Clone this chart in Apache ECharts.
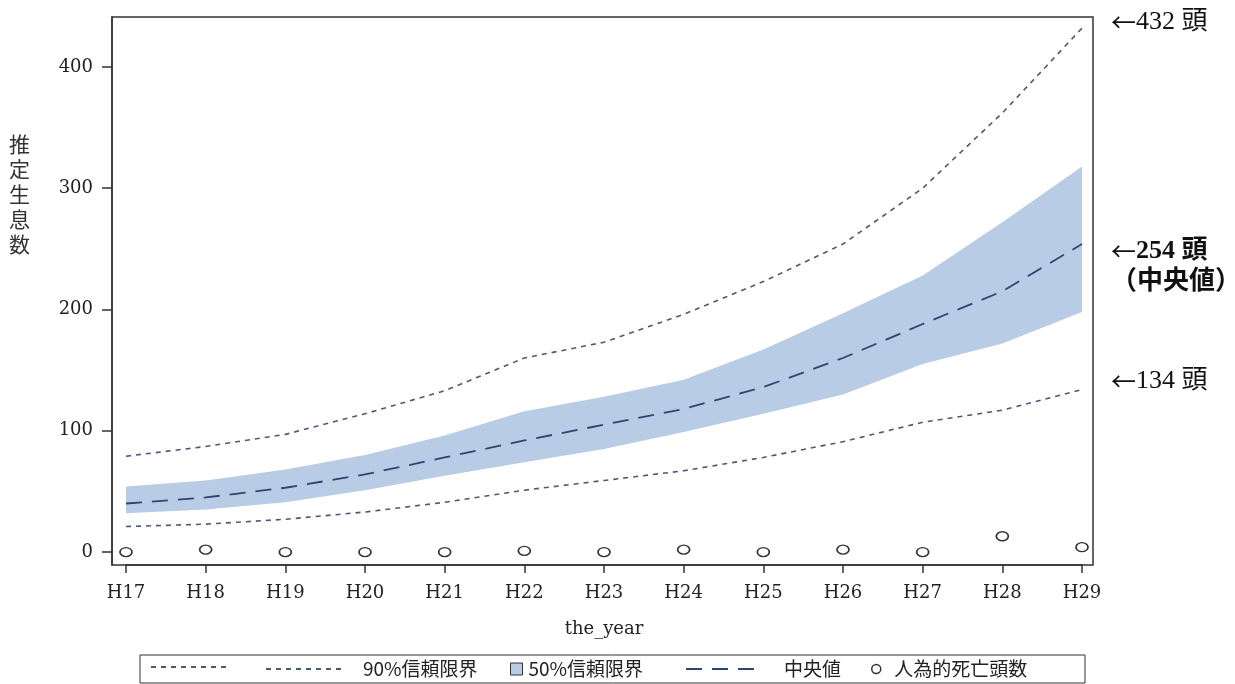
<!DOCTYPE html>
<html>
<head>
<meta charset="utf-8">
<script src="https://cdn.jsdelivr.net/npm/echarts@6/dist/echarts.min.js"></script>
<style>
html,body{margin:0;padding:0;background:#fff;}
#chart{width:1235px;height:684px;}
</style>
</head>
<body>
<div id="chart"></div>
<script>
const years = ['H17','H18','H19','H20','H21','H22','H23','H24','H25','H26','H27','H28','H29'];
const upper90 = [79,87,97,114,133,160,173,196,223,254,300,362,432];
const upper50 = [54,59,68,80,96,116,128,142,167,197,228,272,318];
const median  = [40,45,53,64,78,92,105,118,136,160,188,215,254];
const lower50 = [32,35,41,51,63,74,85,99,114,130,155,172,198];
const lower90 = [21,23,27,33,41,51,59,67,78,91,107,117,134];
const deaths  = [0,2,0,0,0,1,0,2,0,2,0,13,4];
const yTicks  = [0,100,200,300,400];

const bandWidth = upper50.map((v, i) => v - lower50[i]);

const SERIF = "'DejaVu Serif', serif";
const ANNO = "'Liberation Serif', 'Noto Sans CJK JP', serif";
const CJK = "'Noto Sans CJK JP', sans-serif";
const BAND = '#b8cce6';
const LINE90 = '#4b5878';
const LINEMED = '#2f4571';

const chart = echarts.init(document.getElementById('chart'));

function legendPart(name, left, itemWidth, itemHeight, padLeft, extra) {
  return Object.assign({
    data: [name],
    left: left,
    top: 659,
    padding: 0,
    itemWidth: itemWidth,
    itemHeight: itemHeight,
    selectedMode: false,
    textStyle: {fontFamily: CJK, fontSize: 19, lineHeight: 20, color: '#222', padding: [0, 0, 0, padLeft]}
  }, extra || {});
}

function annoLabel(offset, bold, suffix) {
  const fs = 26;
  return {
    show: true, distance: 29, offset: offset,
    formatter: p => '{a|←}' + p.value + ' 頭' + (suffix || ''),
    fontFamily: ANNO, fontSize: fs, lineHeight: 31,
    fontWeight: bold ? 'bold' : 'normal', color: '#111',
    rich: {
      a: {fontFamily: CJK, fontSize: 25, lineHeight: 31, fontWeight: 'normal', color: '#111'}
    }
  };
}

chart.setOption({
  animation: false,
  backgroundColor: '#fff',
  grid: {left: 126, right: 153, top: 17, bottom: 119, containLabel: false},
  xAxis: {
    type: 'category',
    data: years,
    boundaryGap: false,
    name: 'the_year',
    nameLocation: 'middle',
    nameGap: 55,
    nameTextStyle: {fontFamily: SERIF, fontSize: 18, color: '#222'},
    axisLine: {show: true, onZero: false, lineStyle: {color: '#333', width: 1.5}},
    axisTick: {show: true, length: 8, inside: false, lineStyle: {color: '#333', width: 1.5}},
    axisLabel: {fontFamily: SERIF, fontSize: 18, color: '#222', margin: 19},
    splitLine: {show: false}
  },
  yAxis: {
    type: 'value',
    min: -10.7,
    max: 441.2,
    offset: 14,
    axisLine: {show: true, onZero: false, lineStyle: {color: '#333', width: 1.5}},
    axisTick: {show: true, length: 10, customValues: yTicks, lineStyle: {color: '#333', width: 1.5}},
    axisLabel: {fontFamily: SERIF, fontSize: 18, color: '#222', margin: 19, customValues: yTicks},
    splitLine: {show: false}
  },
  legend: [
    legendPart('90U', 150, 78, 20, 0, {formatter: () => '', itemStyle: {opacity: 0}}),
    legendPart('90%信頼限界', 265, 78, 20, 14, {itemStyle: {opacity: 0}}),
    legendPart('50%信頼限界', 510, 12, 12, 1, {
      data: [{name: '50%信頼限界', icon: 'rect', itemStyle: {color: BAND, borderColor: '#333', borderWidth: 1}}]
    }),
    legendPart('中央値', 685, 77, 20, 16, {itemStyle: {opacity: 0}}),
    legendPart('人為的死亡頭数', 871, 12, 9, 7, {
      data: [{name: '人為的死亡頭数', icon: 'circle', itemStyle: {color: '#fff', borderColor: '#333', borderWidth: 1.5}}]
    })
  ],
  graphic: [
    {
      type: 'rect', z: 100, silent: true,
      shape: {x: 112, y: 17, width: 981, height: 548},
      style: {fill: 'none', stroke: '#333', lineWidth: 1.5}
    },
    {
      type: 'rect', z: 100, silent: true,
      shape: {x: 140, y: 655, width: 945, height: 28},
      style: {fill: 'none', stroke: '#333', lineWidth: 1}
    },
    {
      type: 'text', left: 9, top: 132, silent: true,
      style: {text: '推\n定\n生\n息\n数', fontFamily: CJK, fontSize: 21, lineHeight: 25, fill: '#333'}
    }
  ],
  series: [
    {
      name: 'bandBase', type: 'line', data: lower50, stack: 'band',
      symbol: 'none', lineStyle: {opacity: 0, width: 0}, silent: true, z: 1
    },
    {
      name: '50%信頼限界', type: 'line', data: bandWidth, stack: 'band',
      symbol: 'none', lineStyle: {opacity: 0, width: 0},
      itemStyle: {color: BAND},
      areaStyle: {color: BAND, opacity: 1}, silent: true, z: 1
    },
    {
      name: '90U', type: 'line', data: upper90, symbol: 'none', z: 3,
      lineStyle: {color: LINE90, width: 1.6, type: [5, 5]},
      itemStyle: {color: LINE90},
      endLabel: annoLabel([0, -6], false)
    },
    {
      name: '90%信頼限界', type: 'line', data: lower90, symbol: 'none', z: 3,
      lineStyle: {color: LINE90, width: 1.6, type: [5, 5]},
      itemStyle: {color: LINE90},
      endLabel: annoLabel([0, -8], false)
    },
    {
      name: '中央値', type: 'line', data: median, symbol: 'none', z: 4,
      lineStyle: {color: LINEMED, width: 1.8, type: [16, 10]},
      itemStyle: {color: LINEMED},
      endLabel: annoLabel([0, 23], true, '\n（中央値）')
    },
    {
      name: '人為的死亡頭数', type: 'scatter', data: deaths, z: 5,
      symbol: 'circle', symbolSize: [12, 9],
      itemStyle: {color: '#fff', borderColor: '#333', borderWidth: 1.5, opacity: 1}
    }
  ]
});
</script>
</body>
</html>
